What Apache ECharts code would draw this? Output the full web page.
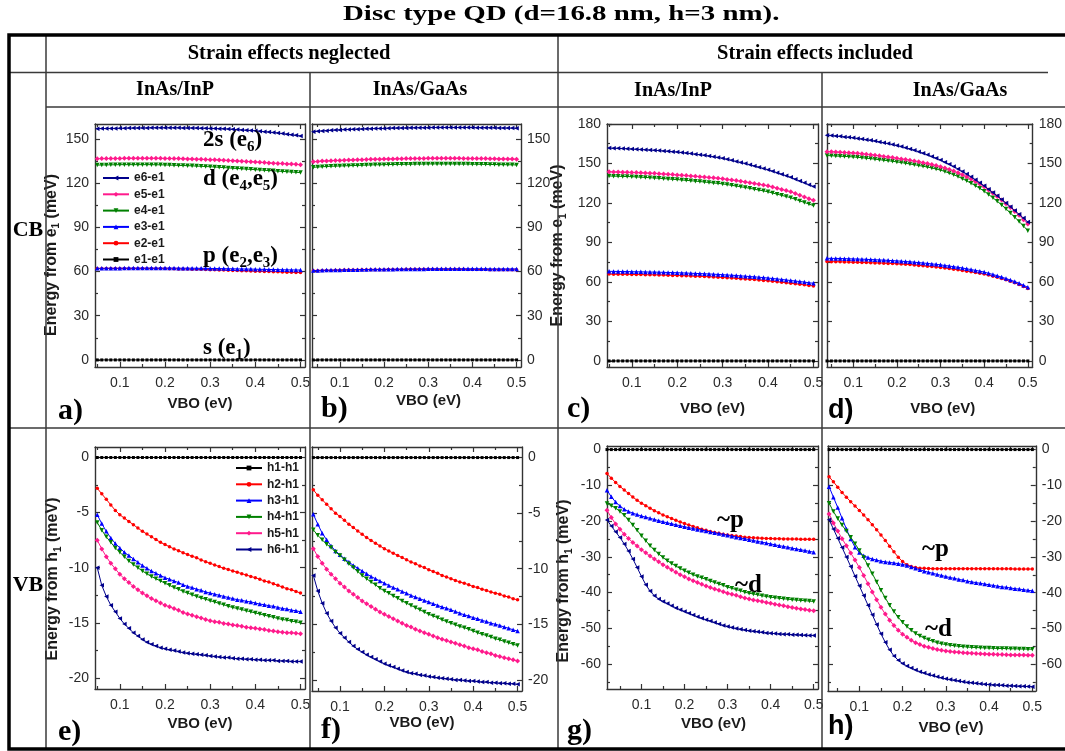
<!DOCTYPE html>
<html><head><meta charset="utf-8">
<script src="https://cdn.jsdelivr.net/npm/echarts@6/dist/echarts.min.js"></script>
<style>html,body{margin:0;padding:0;background:#fff}#c{width:1065px;height:751px}</style>
</head><body><div id="c"></div>
<script>
// ---------- X values (VBO, eV) ----------
const vbo_ace = [0.05,0.06,0.07,0.08,0.09,0.10,0.11,0.12,0.13,0.14,0.15,0.16,0.17,0.18,0.19,0.20,0.21,0.22,0.23,0.24,0.25,0.26,0.27,0.28,0.29,0.30,0.31,0.32,0.33,0.34,0.35,0.36,0.37,0.38,0.39,0.40,0.41,0.42,0.43,0.44,0.45,0.46,0.47,0.48,0.49,0.50];
const vbo_bdf = [0.04,0.05,0.06,0.07,0.08,0.09,0.10,0.11,0.12,0.13,0.14,0.15,0.16,0.17,0.18,0.19,0.20,0.21,0.22,0.23,0.24,0.25,0.26,0.27,0.28,0.29,0.30,0.31,0.32,0.33,0.34,0.35,0.36,0.37,0.38,0.39,0.40,0.41,0.42,0.43,0.44,0.45,0.46,0.47,0.48,0.49,0.50];
const vbo_g = [0.02,0.03,0.04,0.05,0.06,0.07,0.08,0.09,0.10,0.11,0.12,0.13,0.14,0.15,0.16,0.17,0.18,0.19,0.20,0.21,0.22,0.23,0.24,0.25,0.26,0.27,0.28,0.29,0.30,0.31,0.32,0.33,0.34,0.35,0.36,0.37,0.38,0.39,0.40,0.41,0.42,0.43,0.44,0.45,0.46,0.47,0.48,0.49,0.50];
const vbo_h = [0.03,0.04,0.05,0.06,0.07,0.08,0.09,0.10,0.11,0.12,0.13,0.14,0.15,0.16,0.17,0.18,0.19,0.20,0.21,0.22,0.23,0.24,0.25,0.26,0.27,0.28,0.29,0.30,0.31,0.32,0.33,0.34,0.35,0.36,0.37,0.38,0.39,0.40,0.41,0.42,0.43,0.44,0.45,0.46,0.47,0.48,0.49,0.50];

// ---------- ground states (zero reference) ----------
const zero46 = [0,0,0,0,0,0,0,0,0,0, 0,0,0,0,0,0,0,0,0,0, 0,0,0,0,0,0,0,0,0,0, 0,0,0,0,0,0,0,0,0,0, 0,0,0,0,0,0];
const zero47 = [0,0,0,0,0,0,0,0,0,0, 0,0,0,0,0,0,0,0,0,0, 0,0,0,0,0,0,0,0,0,0, 0,0,0,0,0,0,0,0,0,0, 0,0,0,0,0,0,0];
const zero48 = [0,0,0,0,0,0,0,0,0,0, 0,0,0,0,0,0,0,0,0,0, 0,0,0,0,0,0,0,0,0,0, 0,0,0,0,0,0,0,0,0,0, 0,0,0,0,0,0,0,0];
const zero49 = [0,0,0,0,0,0,0,0,0,0, 0,0,0,0,0,0,0,0,0,0, 0,0,0,0,0,0,0,0,0,0, 0,0,0,0,0,0,0,0,0,0, 0,0,0,0,0,0,0,0,0];

// ---------- a) CB, strain neglected, InAs/InP ----------
const a_e2 = [62.0,62.0,62.1,62.1,62.1,62.1,62.1,62.1,62.1,62.1, 62.1,62.1,62.1,62.0,62.0,62.0,61.9,61.9,61.8,61.8, 61.7,61.6,61.6,61.5,61.4,61.3,61.2,61.1,61.0,60.9, 60.8,60.7,60.6,60.5,60.4,60.3,60.2,60.1,60.0,59.9, 59.8,59.7,59.6,59.5,59.4,59.3];
const a_e3 = [62.2,62.2,62.3,62.3,62.3,62.3,62.4,62.4,62.4,62.4, 62.4,62.4,62.4,62.4,62.4,62.4,62.4,62.4,62.3,62.3, 62.3,62.3,62.2,62.2,62.2,62.1,62.1,62.0,62.0,61.9, 61.9,61.8,61.8,61.7,61.7,61.6,61.5,61.5,61.4,61.4, 61.3,61.2,61.2,61.1,61.1,61.0];
const a_e4 = [132.3,132.4,132.4,132.5,132.5,132.6,132.6,132.6,132.6,132.6, 132.6,132.6,132.6,132.5,132.5,132.4,132.3,132.2,132.1,132.0, 131.9,131.8,131.6,131.5,131.3,131.2,131.0,130.8,130.6,130.4, 130.2,130.0,129.8,129.6,129.4,129.2,129.0,128.8,128.6,128.4, 128.2,128.0,127.8,127.6,127.4,127.2];
const a_e5 = [136.6,136.7,136.7,136.8,136.8,136.8,136.9,136.9,136.9,136.9, 136.9,136.9,136.9,136.9,136.9,136.8,136.8,136.7,136.7,136.6, 136.5,136.4,136.3,136.2,136.1,136.0,135.9,135.7,135.6,135.4, 135.3,135.1,134.9,134.8,134.6,134.4,134.2,134.0,133.8,133.6, 133.4,133.3,133.1,133.0,132.8,132.6];
const a_e6 = [157.0,157.1,157.1,157.2,157.2,157.3,157.3,157.4,157.4,157.5, 157.5,157.5,157.6,157.6,157.6,157.6,157.6,157.6,157.6,157.5, 157.5,157.5,157.4,157.3,157.3,157.2,157.1,157.0,156.9,156.8, 156.6,156.4,156.2,156.0,155.8,155.6,155.3,155.0,154.7,154.4, 154.1,153.7,153.3,152.9,152.5,152.0];

// ---------- b) CB, strain neglected, InAs/GaAs ----------
const b_e2 = [60.5,60.6,60.7,60.8,60.8,60.9,60.9,61.0,61.0,61.1, 61.1,61.2,61.2,61.2,61.3,61.3,61.3,61.4,61.4,61.4, 61.4,61.5,61.5,61.5,61.5,61.5,61.5,61.5,61.5,61.5, 61.5,61.5,61.5,61.5,61.5,61.4,61.4,61.4,61.4,61.4, 61.3,61.3,61.3,61.3,61.2,61.2,61.2];
const b_e3 = [60.7,60.8,60.9,61.0,61.0,61.1,61.1,61.2,61.2,61.3, 61.3,61.4,61.4,61.5,61.5,61.5,61.6,61.6,61.6,61.7, 61.7,61.7,61.8,61.8,61.8,61.8,61.9,61.9,61.9,61.9, 61.9,61.9,61.9,61.9,61.9,61.9,61.9,61.9,61.9,61.9, 61.8,61.8,61.8,61.8,61.8,61.8,61.8];
const b_e4 = [130.8,131.0,131.2,131.3,131.5,131.6,131.7,131.8,131.9,132.0, 132.1,132.2,132.3,132.4,132.5,132.5,132.6,132.7,132.7,132.8, 132.8,132.9,132.9,133.0,133.0,133.0,133.1,133.1,133.1,133.1, 133.1,133.1,133.1,133.0,133.0,133.0,132.9,132.9,132.8,132.8, 132.7,132.7,132.6,132.6,132.5,132.5,132.4];
const b_e5 = [134.6,134.8,135.0,135.1,135.3,135.4,135.5,135.6,135.7,135.8, 135.9,136.0,136.1,136.2,136.3,136.3,136.4,136.5,136.5,136.6, 136.6,136.7,136.7,136.8,136.8,136.8,136.9,136.9,136.9,136.9, 136.9,136.9,136.9,136.9,136.8,136.8,136.8,136.7,136.7,136.7, 136.6,136.6,136.5,136.5,136.4,136.4,136.3];
const b_e6 = [155.0,155.3,155.5,155.7,155.9,156.1,156.2,156.4,156.5,156.6, 156.7,156.8,156.9,157.0,157.1,157.2,157.2,157.3,157.4,157.4, 157.5,157.5,157.6,157.6,157.7,157.7,157.7,157.8,157.8,157.8, 157.8,157.8,157.8,157.8,157.8,157.8,157.8,157.7,157.7,157.7, 157.6,157.6,157.5,157.5,157.4,157.4,157.3];

// ---------- c) CB, strain included, InAs/InP ----------
const c_e2 = [66.0,65.9,65.9,65.8,65.8,65.7,65.6,65.6,65.5,65.4, 65.4,65.3,65.2,65.1,65.0,64.9,64.8,64.7,64.5,64.4, 64.3,64.1,64.0,63.8,63.6,63.4,63.2,63.0,62.8,62.5, 62.3,62.0,61.8,61.5,61.2,60.9,60.5,60.2,59.8,59.4, 59.0,58.6,58.2,57.8,57.4,57.0];
const c_e3 = [68.1,68.0,68.0,67.9,67.9,67.8,67.7,67.7,67.6,67.5, 67.5,67.4,67.3,67.2,67.1,67.0,66.9,66.8,66.6,66.5, 66.4,66.2,66.1,65.9,65.7,65.5,65.3,65.1,64.9,64.6, 64.4,64.1,63.9,63.6,63.3,63.0,62.6,62.3,61.9,61.5, 61.1,60.7,60.3,59.9,59.4,59.0];
const c_e4 = [140.5,140.4,140.3,140.2,140.1,140.0,139.8,139.6,139.4,139.2, 139.0,138.8,138.5,138.3,138.0,137.8,137.5,137.2,136.9,136.6, 136.3,135.9,135.6,135.2,134.9,134.5,134.0,133.4,132.9,132.3, 131.8,131.1,130.5,129.8,129.2,128.5,127.6,126.7,125.8,124.9, 124.0,122.8,121.6,120.4,119.2,118.0];
const c_e5 = [143.7,143.6,143.5,143.4,143.3,143.2,143.1,142.9,142.8,142.6, 142.5,142.3,142.0,141.8,141.6,141.3,141.1,140.8,140.5,140.3, 140.0,139.7,139.4,139.1,138.8,138.4,137.9,137.5,137.0,136.5, 136.0,135.4,134.8,134.2,133.6,133.0,132.1,131.2,130.3,129.4, 128.5,127.2,125.9,124.6,123.3,122.0];
const c_e6 = [161.7,161.6,161.5,161.3,161.2,161.0,160.8,160.6,160.4,160.2, 160.0,159.8,159.5,159.3,159.0,158.7,158.3,157.9,157.5,157.1, 156.7,156.2,155.7,155.1,154.6,154.0,153.2,152.4,151.6,150.8, 150.0,149.1,148.1,147.2,146.2,145.3,144.2,143.0,141.9,140.7, 139.5,138.1,136.7,135.3,133.9,132.5];

// ---------- d) CB, strain included, InAs/GaAs ----------
const d_e2 = [75.5,75.4,75.4,75.3,75.2,75.1,75.0,74.9,74.8,74.7, 74.6,74.5,74.4,74.3,74.1,74.0,73.8,73.6,73.4,73.2, 72.9,72.6,72.3,72.0,71.7,71.4,71.0,70.6,70.2,69.7, 69.2,68.7,68.2,67.7,67.1,66.6,66.0,65.2,64.4,63.5, 62.6,61.6,60.5,59.4,58.1,56.6,55.0];
const d_e3 = [78.0,77.9,77.9,77.8,77.7,77.6,77.5,77.4,77.3,77.2, 77.0,76.9,76.7,76.6,76.4,76.2,76.0,75.8,75.5,75.3, 75.0,74.7,74.4,74.1,73.7,73.4,73.0,72.5,72.1,71.6, 71.1,70.6,70.0,69.4,68.8,68.2,67.5,66.6,65.7,64.7, 63.7,62.6,61.5,60.3,59.0,57.5,56.0];
const d_e4 = [156.0,155.9,155.7,155.5,155.4,155.2,155.0,154.7,154.4,154.0, 153.7,153.3,152.9,152.5,152.1,151.7,151.2,150.7,150.2,149.6, 149.1,148.5,147.9,147.3,146.6,145.8,145.0,143.9,142.7,141.5, 140.1,138.5,136.8,135.0,133.1,131.1,129.0,126.5,123.9,121.3, 118.5,115.5,112.4,109.2,105.9,102.5,99.0];
const d_e5 = [159.0,158.9,158.7,158.5,158.4,158.2,158.0,157.7,157.4,157.0, 156.7,156.3,155.9,155.4,155.0,154.5,154.0,153.5,153.0,152.4, 151.9,151.3,150.6,149.9,149.2,148.4,147.6,146.6,145.5,144.3, 143.0,141.5,139.9,138.2,136.3,134.4,132.3,129.9,127.4,124.9, 122.2,119.5,116.6,113.6,110.6,107.3,104.0];
const d_e6 = [171.5,171.2,170.9,170.6,170.2,169.9,169.5,169.0,168.6,168.1, 167.6,167.0,166.4,165.8,165.1,164.4,163.7,162.9,162.0,161.1, 160.1,159.0,157.8,156.6,155.3,154.0,152.6,151.0,149.4,147.7, 145.9,144.0,142.0,139.9,137.7,135.4,133.0,130.5,128.0,125.4, 122.7,120.0,117.2,114.3,111.4,108.5,105.5];

// ---------- e) VB, strain neglected, InAs/InP ----------
const e_h2 = [-2.8,-3.3,-3.8,-4.3,-4.8,-5.2,-5.5,-5.8,-6.1,-6.4, -6.7,-6.95,-7.2,-7.45,-7.7,-7.9,-8.1,-8.3,-8.45,-8.65, -8.8,-8.95,-9.1,-9.3,-9.45,-9.6,-9.75,-9.9,-10.05,-10.15, -10.3,-10.4,-10.55,-10.65,-10.8,-10.9,-11.05,-11.2,-11.3,-11.45, -11.6,-11.75,-11.9,-12.0,-12.15,-12.3];
const e_h3 = [-5.2,-6.0,-6.7,-7.3,-7.8,-8.2,-8.6,-8.9,-9.2,-9.5, -9.8,-10.05,-10.3,-10.5,-10.7,-10.9,-11.05,-11.2,-11.35,-11.55, -11.7,-11.8,-11.95,-12.05,-12.2,-12.3,-12.4,-12.5,-12.6,-12.7, -12.8,-12.9,-12.95,-13.05,-13.1,-13.2,-13.3,-13.35,-13.45,-13.5, -13.6,-13.7,-13.75,-13.85,-13.9,-14.0];
const e_h4 = [-5.9,-6.6,-7.2,-7.7,-8.2,-8.6,-9.0,-9.4,-9.7,-10.0, -10.3,-10.55,-10.8,-11.0,-11.2,-11.4,-11.6,-11.8,-11.95,-12.15, -12.3,-12.45,-12.6,-12.75,-12.85,-13.0,-13.1,-13.25,-13.35,-13.5, -13.6,-13.7,-13.8,-13.9,-14.0,-14.1,-14.2,-14.3,-14.4,-14.5, -14.6,-14.7,-14.75,-14.85,-14.9,-15.0];
const e_h5 = [-7.5,-8.3,-9.0,-9.6,-10.1,-10.6,-11.0,-11.35,-11.7,-12.0, -12.3,-12.55,-12.8,-13.0,-13.2,-13.4,-13.55,-13.7,-13.85,-14.05, -14.2,-14.3,-14.45,-14.55,-14.7,-14.8,-14.9,-14.95,-15.05,-15.1, -15.2,-15.25,-15.3,-15.4,-15.45,-15.5,-15.55,-15.6,-15.7,-15.75, -15.8,-15.85,-15.9,-15.9,-15.95,-16.0];
const e_h6 = [-10.0,-11.6,-12.6,-13.4,-14.0,-14.6,-15.1,-15.5,-15.9,-16.2, -16.5,-16.75,-16.95,-17.1,-17.25,-17.35,-17.45,-17.5,-17.6,-17.7, -17.75,-17.8,-17.85,-17.9,-17.95,-18.0,-18.05,-18.1,-18.15,-18.15, -18.2,-18.25,-18.25,-18.3,-18.3,-18.35,-18.35,-18.4,-18.4,-18.4, -18.45,-18.45,-18.45,-18.5,-18.5,-18.5];

// ---------- f) VB, strain neglected, InAs/GaAs ----------
const f_h2 = [-2.9,-3.4,-3.8,-4.2,-4.6,-5.0,-5.3,-5.65,-6.0,-6.3, -6.6,-6.9,-7.2,-7.45,-7.7,-7.95,-8.2,-8.4,-8.6,-8.8, -9.0,-9.2,-9.4,-9.55,-9.75,-9.9,-10.1,-10.25,-10.4,-10.6, -10.75,-10.9,-11.05,-11.2,-11.3,-11.45,-11.6,-11.7,-11.85,-11.95, -12.1,-12.2,-12.3,-12.45,-12.55,-12.7,-12.8];
const f_h3 = [-5.1,-6.0,-6.8,-7.4,-7.95,-8.4,-8.75,-9.1,-9.4,-9.7, -9.95,-10.2,-10.45,-10.7,-10.9,-11.1,-11.3,-11.5,-11.7,-11.85, -12.05,-12.2,-12.4,-12.55,-12.7,-12.85,-13.0,-13.15,-13.3,-13.45, -13.55,-13.7,-13.85,-14.0,-14.15,-14.25,-14.4,-14.5,-14.65,-14.75, -14.9,-15.0,-15.1,-15.25,-15.35,-15.5,-15.6];
const f_h4 = [-6.5,-7.0,-7.4,-7.8,-8.1,-8.5,-8.8,-9.2,-9.55,-9.9, -10.25,-10.6,-10.9,-11.2,-11.45,-11.75,-12.0,-12.2,-12.45,-12.65, -12.9,-13.1,-13.3,-13.5,-13.7,-13.9,-14.1,-14.25,-14.4,-14.6, -14.75,-14.9,-15.05,-15.2,-15.3,-15.45,-15.6,-15.75,-15.9,-16.0, -16.15,-16.3,-16.4,-16.55,-16.65,-16.8,-16.9];
const f_h5 = [-8.2,-8.9,-9.5,-10.05,-10.5,-10.9,-11.3,-11.65,-12.0,-12.3, -12.6,-12.9,-13.15,-13.4,-13.65,-13.9,-14.1,-14.3,-14.5,-14.7, -14.9,-15.1,-15.25,-15.45,-15.6,-15.75,-15.9,-16.05,-16.2,-16.35, -16.45,-16.6,-16.7,-16.85,-16.95,-17.1,-17.2,-17.3,-17.45,-17.55, -17.65,-17.8,-17.9,-18.0,-18.1,-18.2,-18.3];
const f_h6 = [-10.6,-12.0,-13.1,-14.0,-14.7,-15.3,-15.8,-16.2,-16.6,-16.95, -17.25,-17.5,-17.75,-17.95,-18.15,-18.35,-18.55,-18.7,-18.85,-19.0, -19.15,-19.3,-19.4,-19.45,-19.55,-19.6,-19.7,-19.75,-19.8,-19.85, -19.9,-19.95,-20.0,-20.0,-20.05,-20.1,-20.1,-20.15,-20.2,-20.2, -20.25,-20.25,-20.3,-20.3,-20.35,-20.35,-20.4];

// ---------- g) VB, strain included, InAs/InP ----------
const g_h2 = [-6.7,-8.0,-9.2,-10.3,-11.3,-12.3,-13.3,-14.2,-15.0,-15.7, -16.4,-17.1,-17.7,-18.3,-18.8,-19.3,-19.8,-20.3,-20.7,-21.1, -21.5,-21.9,-22.3,-22.6,-22.9,-23.2,-23.45,-23.7,-23.9,-24.05, -24.2,-24.35,-24.5,-24.6,-24.7,-24.75,-24.8,-24.85,-24.9,-24.95, -24.95,-25.0,-25.0,-25.05,-25.05,-25.1,-25.1,-25.1,-25.1];
const g_h3 = [-11.4,-13.2,-14.7,-15.8,-16.7,-17.3,-17.8,-18.2,-18.6,-18.9, -19.25,-19.55,-19.9,-20.2,-20.5,-20.75,-21.05,-21.3,-21.6,-21.85, -22.1,-22.35,-22.55,-22.8,-23.05,-23.3,-23.5,-23.75,-24.0,-24.25, -24.5,-24.75,-24.95,-25.2,-25.45,-25.7,-25.9,-26.15,-26.4,-26.65, -26.9,-27.1,-27.35,-27.6,-27.8,-28.05,-28.25,-28.5,-28.7];
const g_h4 = [-15.1,-15.7,-16.4,-17.3,-18.4,-19.7,-21.1,-22.6,-24.1,-25.5, -26.9,-28.1,-29.2,-30.2,-31.1,-31.9,-32.6,-33.3,-33.9,-34.5, -35.0,-35.5,-35.9,-36.3,-36.8,-37.2,-37.6,-38.0,-38.5,-38.8, -39.2,-39.5,-39.9,-40.2,-40.4,-40.6,-40.9,-41.1,-41.3,-41.45, -41.6,-41.75,-41.85,-42.0,-42.1,-42.2,-42.3,-42.4,-42.5];
const g_h5 = [-17.0,-19.0,-20.8,-22.3,-23.7,-24.9,-26.0,-27.0,-28.0,-28.9, -29.8,-30.6,-31.4,-32.2,-32.9,-33.6,-34.3,-35.0,-35.6,-36.2, -36.7,-37.2,-37.7,-38.2,-38.6,-39.0,-39.4,-39.8,-40.2,-40.5, -40.8,-41.2,-41.5,-41.8,-42.1,-42.3,-42.5,-42.8,-43.0,-43.25, -43.5,-43.7,-43.95,-44.2,-44.4,-44.6,-44.75,-44.95,-45.1];
const g_h6 = [-19.7,-21.4,-23.0,-24.6,-26.4,-28.4,-30.6,-33.0,-35.5,-37.8, -39.6,-40.9,-41.8,-42.5,-43.1,-43.7,-44.3,-44.8,-45.3,-45.8, -46.3,-46.8,-47.2,-47.6,-48.0,-48.4,-48.8,-49.2,-49.5,-49.8, -50.05,-50.3,-50.5,-50.7,-50.85,-51.0,-51.15,-51.3,-51.4,-51.5, -51.6,-51.65,-51.7,-51.8,-51.85,-51.9,-51.95,-52.0,-52.0];

// ---------- h) VB, strain included, InAs/GaAs ----------
const h_h2 = [-7.6,-9.0,-10.5,-12.0,-13.3,-14.6,-15.8,-17.0,-18.3,-19.6, -21.0,-22.4,-23.9,-25.4,-27.0,-28.6,-30.1,-31.3,-32.2,-32.7, -33.0,-33.15,-33.2,-33.25,-33.3,-33.3,-33.3,-33.3,-33.3,-33.3, -33.3,-33.3,-33.3,-33.3,-33.3,-33.3,-33.3,-33.3,-33.35,-33.35, -33.35,-33.35,-33.35,-33.4,-33.4,-33.4,-33.4,-33.4];
const h_h3 = [-10.4,-13.3,-16.2,-19.2,-22.2,-25.0,-27.3,-28.8,-29.7,-30.2, -30.6,-30.9,-31.2,-31.4,-31.55,-31.7,-31.9,-32.1,-32.4,-32.8, -33.2,-33.6,-34.0,-34.3,-34.6,-34.9,-35.2,-35.5,-35.8,-36.0, -36.3,-36.5,-36.8,-37.0,-37.2,-37.4,-37.6,-37.8,-38.0,-38.2, -38.4,-38.5,-38.7,-38.9,-39.0,-39.2,-39.35,-39.5];
const h_h4 = [-15.0,-17.3,-19.3,-21.1,-22.8,-24.5,-26.3,-28.2,-30.2,-32.4, -34.7,-37.0,-39.3,-41.5,-43.5,-45.3,-46.9,-48.3,-49.5,-50.5, -51.4,-52.1,-52.7,-53.2,-53.6,-54.0,-54.3,-54.5,-54.7,-54.85, -55.0,-55.1,-55.2,-55.3,-55.35,-55.4,-55.45,-55.5,-55.55,-55.6, -55.6,-55.65,-55.7,-55.7,-55.75,-55.75,-55.8,-55.8];
const h_h5 = [-18.0,-20.5,-22.8,-24.9,-26.9,-28.9,-30.9,-33.0,-35.2,-37.5, -39.8,-42.0,-44.1,-46.0,-47.7,-49.2,-50.5,-51.6,-52.5,-53.3, -54.0,-54.5,-55.0,-55.3,-55.6,-55.9,-56.1,-56.3,-56.45,-56.6, -56.7,-56.8,-56.9,-56.95,-57.0,-57.1,-57.15,-57.2,-57.25,-57.3, -57.3,-57.35,-57.4,-57.4,-57.45,-57.45,-57.5,-57.5];
const h_h6 = [-19.6,-22.2,-24.8,-27.4,-30.0,-32.7,-35.4,-38.1,-40.8,-43.5, -46.2,-48.9,-51.5,-53.9,-56.0,-57.7,-58.9,-59.8,-60.5,-61.1, -61.6,-62.1,-62.5,-62.9,-63.2,-63.5,-63.8,-64.1,-64.3,-64.5, -64.7,-64.9,-65.1,-65.2,-65.35,-65.5,-65.6,-65.7,-65.8,-65.85, -65.9,-66.0,-66.05,-66.1,-66.15,-66.2,-66.25,-66.3];

// ---------- names and tick labels ----------
const namesCB = ['e1-e1','e2-e1','e3-e1','e4-e1','e5-e1','e6-e1'];
const namesVB = ['h1-h1','h2-h1','h3-h1','h4-h1','h5-h1','h6-h1'];
const X_MAJOR = [0.1,0.2,0.3,0.4,0.5];
const X_MINOR = [0.05,0.15,0.25,0.35,0.45];
const Y_CB1_MAJOR = [0,30,60,90,120,150];
const Y_CB1_MINOR = [15,45,75,105,135];
const Y_CB2_MAJOR = [0,30,60,90,120,150,180];
const Y_CB2_MINOR = [15,45,75,105,135,165];
const Y_VB1_MAJOR = [-20,-15,-10,-5,0];
const Y_VB1_MINOR = [-17.5,-12.5,-7.5,-2.5];
const Y_VB2_MAJOR = [-60,-50,-40,-30,-20,-10,0];
const Y_VB2_MINOR = [-65,-55,-45,-35,-25,-15,-5];

// ---------- layout ----------
const SERIF = '"Liberation Serif","Times New Roman",serif';
const SANS = '"Liberation Sans",Arial,sans-serif';
const AX = '#333';
const LBL = '#2a2a2a';

const panels = [
  {g:[95,124,210,243], xr:[0.045,0.51], yr:[-4.8,160.2], yM:Y_CB1_MAJOR, ym:Y_CB1_MINOR, side:'left',  x:vbo_ace, ys:[zero46,a_e2,a_e3,a_e4,a_e5,a_e6], names:namesCB, yName:'e', yGap:29, yPad:19, xGap:29, xPad:0},
  {g:[312,124,209,243], xr:[0.037,0.51], yr:[-4.8,160.2], yM:Y_CB1_MAJOR, ym:Y_CB1_MINOR, side:'right', x:vbo_bdf, ys:[zero47,b_e2,b_e3,b_e4,b_e5,b_e6], names:namesCB, yName:null, xGap:26, xPad:12},
  {g:[607,124,211,243], xr:[0.0455,0.51], yr:[-4.6,180], yM:Y_CB2_MAJOR, ym:Y_CB2_MINOR, side:'left',  x:vbo_ace, ys:[zero46,c_e2,c_e3,c_e4,c_e5,c_e6], names:namesCB, yName:'e', yGap:39, yPad:0, xGap:34, xPad:0},
  {g:[827,124,211,243], xr:[0.04,0.511], yr:[-4.6,180], yM:Y_CB2_MAJOR, ym:Y_CB2_MINOR, side:'right', x:vbo_bdf, ys:[zero47,d_e2,d_e3,d_e4,d_e5,d_e6], names:namesCB, yName:null, xGap:34, xPad:13},
  {g:[95,447,210,242], xr:[0.045,0.51], yr:[-21,0.95], yM:Y_VB1_MAJOR, ym:Y_VB1_MINOR, side:'left',  x:vbo_ace, ys:[zero46,e_h2,e_h3,e_h4,e_h5,e_h6], names:namesVB, yName:'h', yGap:32, yPad:22, xGap:27, xPad:0},
  {g:[312,447,210,244], xr:[0.037,0.51], yr:[-21,0.95], yM:Y_VB1_MAJOR, ym:Y_VB1_MINOR, side:'right', x:vbo_bdf, ys:[zero47,f_h2,f_h3,f_h4,f_h5,f_h6], names:namesVB, yName:null, xGap:22, xPad:5},
  {g:[607,446,211,243], xr:[0.02,0.51], yr:[-67,1], yM:Y_VB2_MAJOR, ym:Y_VB2_MINOR, side:'left',  x:vbo_g, ys:[zero49,g_h2,g_h3,g_h4,g_h5,g_h6], names:namesVB, yName:'h', yGap:33, yPad:27, xGap:27, xPad:1},
  {g:[828,446,210,245], xr:[0.0275,0.508], yr:[-67.5,1], yM:Y_VB2_MAJOR, ym:Y_VB2_MINOR, side:'right', x:vbo_h, ys:[zero48,h_h2,h_h3,h_h4,h_h5,h_h6], names:namesVB, yName:null, xGap:29, xPad:19}
];

const styles = [
  {color:'#000000', symbol:'rect', size:3, rot:0},
  {color:'#ff0000', symbol:'circle', size:3.5, rot:0},
  {color:'#0000ff', symbol:'triangle', size:4.5, rot:0},
  {color:'#008000', symbol:'triangle', size:4.5, rot:180},
  {color:'#ff1a8c', symbol:'diamond', size:5, rot:0},
  {color:'#00008b', symbol:'triangle', size:4.5, rot:90}
];

const grids = [], xAxes = [], yAxes = [], series = [];
panels.forEach((p, i) => {
  grids.push({left:p.g[0], top:p.g[1], width:p.g[2], height:p.g[3], containLabel:false});
  const line = {show:true, onZero:false, lineStyle:{color:AX, width:1.4}};
  const noLine = {show:false, onZero:false};
  const tk = (vals, len) => ({show:true, inside:true, length:len, customValues:vals, lineStyle:{color:AX, width:1.2}});
  const bx = {gridIndex:i, type:'value', min:p.xr[0], max:p.xr[1], splitLine:{show:false}};
  xAxes.push(Object.assign({}, bx, {position:'bottom', axisLine:line, axisTick:tk(X_MAJOR,5),
    axisLabel:{show:true, customValues:X_MAJOR, margin:9, fontSize:14, color:LBL, fontFamily:SANS, formatter:v=>v.toFixed(1)},
    name:'VBO (eV)', nameLocation:'middle', nameGap:p.xGap,
    nameTextStyle:{fontSize:15, fontWeight:'bold', fontFamily:SANS, color:'#1a1a1a', padding:[0,0,0,p.xPad*2]}}));
  xAxes.push(Object.assign({}, bx, {position:'bottom', axisLine:noLine, axisTick:tk(X_MINOR,3), axisLabel:{show:false}}));
  xAxes.push(Object.assign({}, bx, {position:'top', axisLine:line, axisTick:tk(X_MAJOR,5), axisLabel:{show:false}}));
  xAxes.push(Object.assign({}, bx, {position:'top', axisLine:noLine, axisTick:tk(X_MINOR,3), axisLabel:{show:false}}));

  const by = {gridIndex:i, type:'value', min:p.yr[0], max:p.yr[1], splitLine:{show:false}};
  const other = p.side === 'left' ? 'right' : 'left';
  const yMain = Object.assign({}, by, {position:p.side, axisLine:line, axisTick:tk(p.yM,5),
    axisLabel:{show:true, customValues:p.yM, margin:6, fontSize:14, color:LBL, fontFamily:SANS}});
  if (p.yName) {
    yMain.name = '{b|Energy from ' + p.yName + '}{s|1}{b| (meV)}';
    yMain.nameLocation = 'middle';
    yMain.nameGap = p.yGap;
    yMain.nameTextStyle = {padding:[0,p.yPad,0,0], rich:{
      b:{fontSize:16, fontWeight:'bold', fontFamily:SANS, color:'#1a1a1a', verticalAlign:'top', lineHeight:18},
      s:{fontSize:10, fontWeight:'bold', fontFamily:SANS, color:'#1a1a1a', verticalAlign:'top', lineHeight:12, padding:[8,0,0,0]}
    }};
  }
  yAxes.push(yMain);
  yAxes.push(Object.assign({}, by, {position:p.side, axisLine:noLine, axisTick:tk(p.ym,3), axisLabel:{show:false}}));
  yAxes.push(Object.assign({}, by, {position:other, axisLine:line, axisTick:tk(p.yM,5), axisLabel:{show:false}}));
  yAxes.push(Object.assign({}, by, {position:other, axisLine:noLine, axisTick:tk(p.ym,3), axisLabel:{show:false}}));

  p.ys.forEach((vals, j) => {
    const st = styles[j];
    series.push({
      type:'line', name:p.names[j], xAxisIndex:4*i, yAxisIndex:4*i,
      data:p.x.map((xv, k) => [xv, vals[k]]),
      symbol:st.symbol, symbolSize:st.size, symbolRotate:st.rot, showSymbol:true,
      lineStyle:{width:1, color:st.color}, itemStyle:{color:st.color},
      z:2+j, silent:true, animation:false
    });
  });
});

// ---------- table, headers, annotations ----------
const G = [];
const L = (x1,y1,x2,y2,w,c) => G.push({type:'line', z:40, shape:{x1,y1,x2,y2}, style:{stroke:c||'#3a3a3a', lineWidth:w||1.5}});
G.push({type:'rect', z:41, shape:{x:9, y:35, width:1090, height:714}, style:{fill:'none', stroke:'#000', lineWidth:3.5}});
L(9,72.5,1048,72.5);
L(46,107,1065,107);
L(9,428,1065,428);
L(46,35,46,749);
L(310,72.5,310,749);
L(558,35,558,749);
L(822,72.5,822,749);

const T = (x, y, text, font, align, extra) => G.push(Object.assign({type:'text', z:50, x, y,
  style:{text, font, fill:'#000', align:align||'center', verticalAlign:'middle'}}, extra||{}));
const BS = s => 'bold ' + s + 'px ' + SERIF;
const BA = s => 'bold ' + s + 'px ' + SANS;

T(343, 15, 'Disc type QD (d=16.8 nm, h=3 nm).', BS(21), 'left', {scaleX:1.375});
T(289, 54, 'Strain effects neglected', BS(20.5));
T(815, 54, 'Strain effects included', BS(20.5));
T(175, 90, 'InAs/InP', BS(20));
T(420, 90, 'InAs/GaAs', BS(20));
T(673, 91, 'InAs/InP', BS(20));
T(960, 91, 'InAs/GaAs', BS(20));
T(28, 230, 'CB', BS(22));
T(28, 585, 'VB', BS(22));

T(58, 411, 'a)', BS(30), 'left');
T(321, 409, 'b)', BS(30), 'left');
T(567, 409, 'c)', BS(30), 'left');
T(828, 411, 'd)', BA(27), 'left');
T(58, 732, 'e)', BS(30), 'left');
T(321, 730, 'f)', BS(30), 'left');
T(567, 731, 'g)', BS(30), 'left');
T(828, 727, 'h)', BA(27), 'left');

const richAnn = {
  m:{font:BS(23), fill:'#000', verticalAlign:'top', lineHeight:26},
  s:{font:BS(15), fill:'#000', verticalAlign:'top', lineHeight:17, padding:[11,0,0,0]}
};
const A = (x, y, text) => G.push({type:'text', z:50, x, y, style:{text, rich:richAnn, font:BS(23), fill:'#000', align:'left', verticalAlign:'middle'}});
A(203, 142, '{m|2s (e}{s|6}{m|)}');
A(203, 181, '{m|d (e}{s|4}{m|,e}{s|5}{m|)}');
A(203, 258, '{m|p (e}{s|2}{m|,e}{s|3}{m|)}');
A(203, 350, '{m|s (e}{s|1}{m|)}');
T(717, 521, '~p', BS(25), 'left');
T(735, 586, '~d', BS(25), 'left');
T(922, 550, '~p', BS(25), 'left');
T(925, 630, '~d', BS(25), 'left');

const legendText = {fontSize:12, fontWeight:'bold', fontFamily:SANS, color:'#1a1a1a', lineHeight:14};
const option = {
  backgroundColor:'#ffffff',
  animation:false,
  grid:grids, xAxis:xAxes, yAxis:yAxes, series:series,
  legend:[
    {data:['e6-e1','e5-e1','e4-e1','e3-e1','e2-e1','e1-e1'], left:102, top:171, orient:'vertical',
     itemWidth:26, itemHeight:6, itemGap:2.3, selectedMode:false, textStyle:legendText, padding:0},
    {data:['h1-h1','h2-h1','h3-h1','h4-h1','h5-h1','h6-h1'], left:235, top:461, orient:'vertical',
     itemWidth:26, itemHeight:6, itemGap:2.3, selectedMode:false, textStyle:legendText, padding:0}
  ],
  graphic:{elements:G}
};
const chart = echarts.init(document.getElementById('c'), null, {renderer:'canvas'});
chart.setOption(option);
</script>
</body></html>
